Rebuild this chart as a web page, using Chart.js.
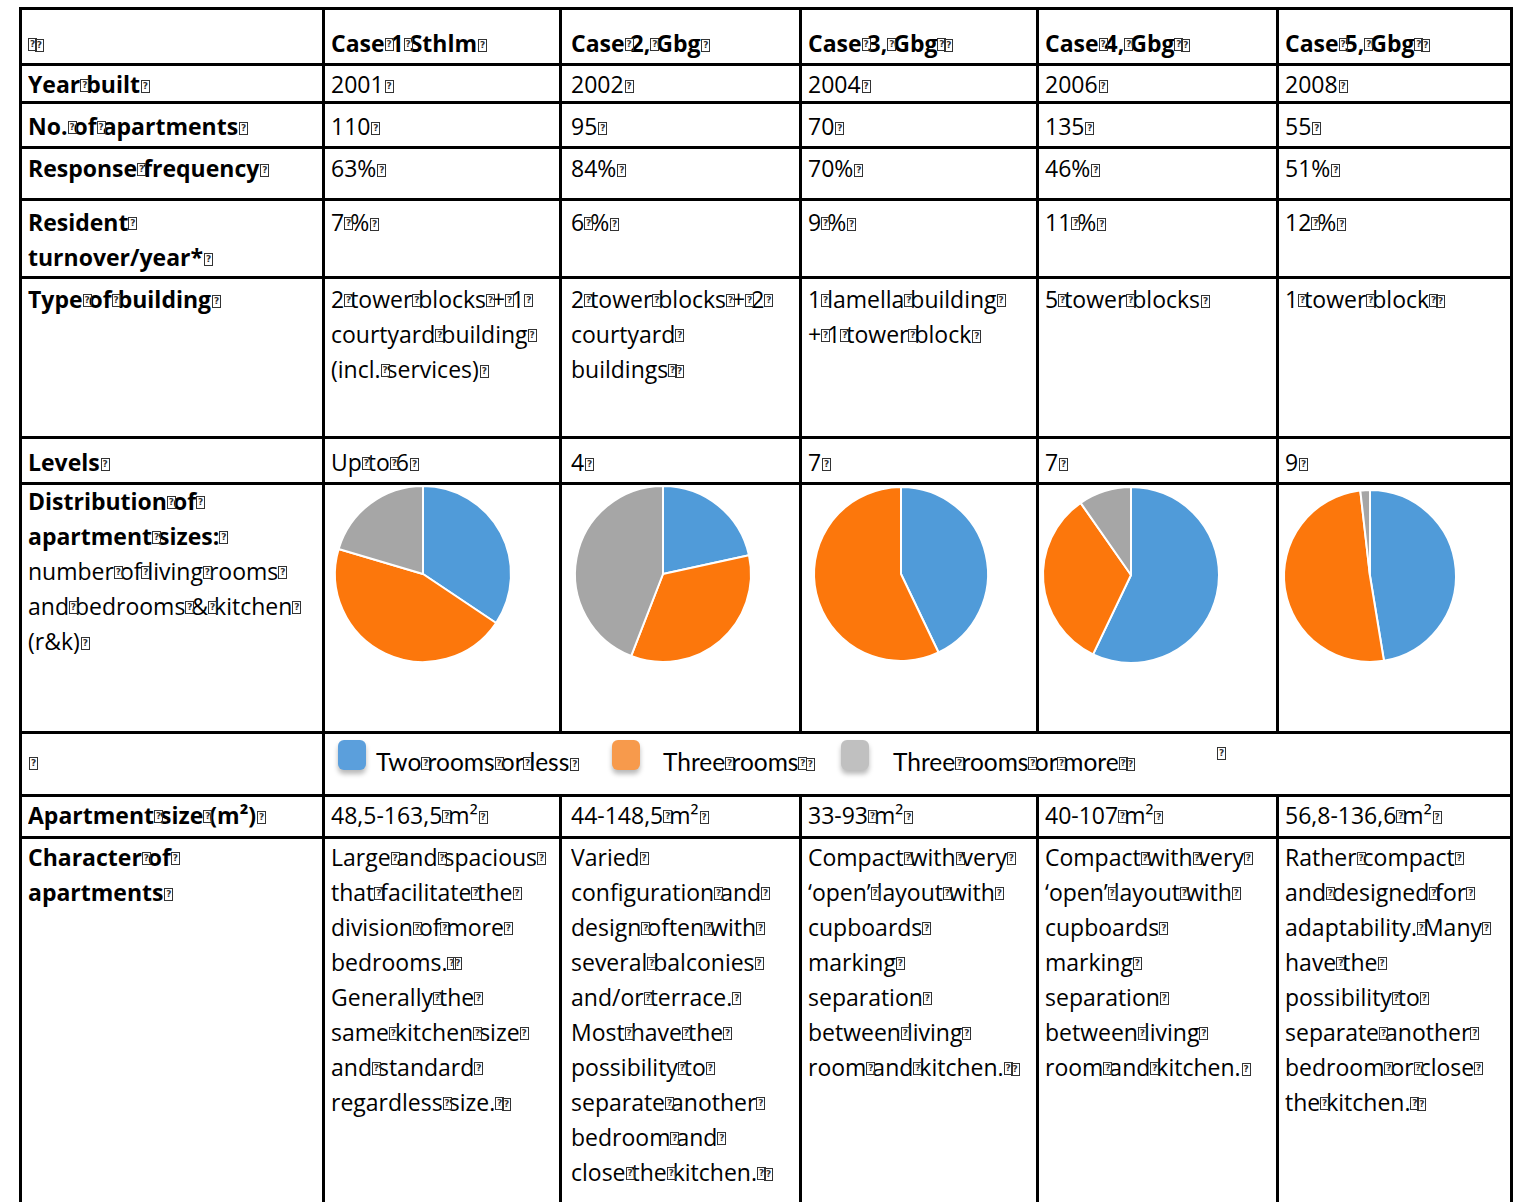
<!DOCTYPE html>
<html><head><meta charset="utf-8">
<script src="https://cdn.jsdelivr.net/npm/chart.js@4.4.1/dist/chart.umd.min.js"></script>
<style>
html,body{margin:0;padding:0;background:#fff;}
#page{position:relative;width:1514px;height:1202px;overflow:hidden;font-family:'Open Sans',Lato,sans-serif;color:#000;}
.ln{position:absolute;background:#000;}
.cell{position:absolute;overflow:hidden;font-size:23px;line-height:35px;white-space:pre;}
.b{font-weight:700;}
.sp{position:relative;}
.sp::after{content:'?';position:absolute;left:0;bottom:8px;width:9px;height:13px;border:1px solid #333;box-sizing:border-box;font:700 9px/11px 'DejaVu Sans',sans-serif;text-align:center;color:#333;}
.bx{display:inline-block;position:relative;width:9px;height:13px;margin-left:1px;}
.bx::after{content:'?';position:absolute;left:0;top:0;width:9px;height:13px;border:1px solid #333;box-sizing:border-box;font:700 9px/11px 'DejaVu Sans',sans-serif;text-align:center;color:#333;}
.sw{position:absolute;width:28px;height:30px;border-radius:6px;box-shadow:0 4px 5px rgba(0,0,0,0.28);}
.lg{position:absolute;font-family:Lato,sans-serif;font-size:24.5px;line-height:30px;white-space:pre;}
.lg .sp::after{bottom:6px;}
</style></head>
<body><div id="page"></div>
<script>
// ---------------- data ----------------
const cases = ["Case 1 Sthlm", "Case 2, Gbg", "Case 3, Gbg ", "Case 4, Gbg ", "Case 5, Gbg "];
const rowLabels = ["Year built", "No. of apartments", "Response frequency", "Resident \nturnover/year*", "Type of building", "Levels"];
const yearBuilt = ["2001", "2002", "2004", "2006", "2008"];
const numApartments = ["110", "95", "70", "135", "55"];
const responseFrequency = ["63%", "84%", "70%", "46%", "51%"];
const residentTurnover = ["7 %", "6 %", "9 %", "11 %", "12 %"];
const buildingType = [
  "2 tower blocks + 1 \ncourtyard building \n(incl. services)",
  "2 tower blocks + 2 \ncourtyard \nbuildings ",
  "1 lamella building \n+ 1 tower block",
  "5 tower blocks",
  "1 tower block "
];
const levels = ["Up to 6", "4", "7", "7", "9"];
const distributionLabelBold = "Distribution of \napartment sizes: ";
const distributionLabelRegular = "number of living rooms \nand bedrooms & kitchen \n(r&k)";
const sizeCategories = ["Two rooms or less", "Three rooms ", "Three rooms or more "];
// shares of apartments (%)
const shareTwoRoomsOrLess = [34.4, 21.6, 42.9, 57.1, 47.4];
const shareThreeRooms     = [45.2, 34.3, 57.1, 33.2, 50.8];
const shareThreeOrMore    = [20.4, 44.1, 0.0,  9.7,  1.8];
const sizeLabel = "Apartment size (m²)";
const sizeRange = ["48,5-163,5 m²", "44-148,5 m²", "33-93 m²", "40-107 m²", "56,8-136,6 m²"];
const characterLabel = "Character of \napartments";
const character = [
  "Large and spacious \nthat facilitate the \ndivision of more \nbedrooms.  \nGenerally the \nsame kitchen size \nand standard \nregardless size. ",
  "Varied \nconfiguration and \ndesign often with \nseveral balconies \nand/or terrace. \nMost have the \npossibility to \nseparate another \nbedroom and \nclose the kitchen. ",
  "Compact with very \n‘open’ layout with \ncupboards \nmarking \nseparation \nbetween living \nroom and kitchen. ",
  "Compact with very \n‘open’ layout with \ncupboards \nmarking \nseparation \nbetween living \nroom and kitchen.",
  "Rather compact \nand designed for \nadaptability. Many \nhave the \npossibility to \nseparate another \nbedroom or close \nthe kitchen. "
];

// ---------------- layout / style ----------------
const colLines = [19, 322, 559, 799, 1036, 1276, 1510];
const colPad = [6, 6, 9, 6, 6, 6];
const rowLines = [7, 63, 101, 146, 198, 276, 436, 482, 731, 794, 836];
const pageBottom = 1202;
const textTop = [26, 67, 109, 151, 205, 282, 445, 484, 744, 798, 840];
const pieColors = ['#509BD9', '#FC770C', '#A6A6A6'];
const legendColors = ['#5B9FDC', '#F79A4C', '#C0C0C0'];
const pieCenters = [[423,574],[663,574],[901,574],[1131,575],[1370,576]];
const pieRadii = [88, 88, 87, 88, 86];

const page = document.getElementById('page');
function line(x, y, w, h){ const d=document.createElement('div'); d.className='ln'; d.style.cssText=`left:${x}px;top:${y}px;width:${w}px;height:${h}px`; page.appendChild(d); }
const LW = 3;
rowLines.forEach(y => line(colLines[0], y, colLines[6]-colLines[0]+LW, LW));
[0,1,6].forEach(c => line(colLines[c], rowLines[0], LW, pageBottom-rowLines[0]));
[2,3,4,5].forEach(c => { line(colLines[c], rowLines[0], LW, rowLines[8]-rowLines[0]+LW); line(colLines[c], rowLines[9], LW, pageBottom-rowLines[9]); });

function fill(el, text, bold, endBox){
  const lines = text.split('\n');
  lines.forEach((ln, li) => {
    const div = document.createElement('div');
    if (bold) div.className = 'b';
    ln.split(/( )/).forEach(part => {
      if (part === ' ') { const s=document.createElement('span'); s.className='sp'; s.textContent=' '; div.appendChild(s); }
      else if (part) div.appendChild(document.createTextNode(part));
    });
    if (endBox && li === lines.length-1) { const b=document.createElement('span'); b.className='bx'; div.appendChild(b); }
    el.appendChild(div);
  });
}
function cell(r, c, text, bold, endBox=true){
  const el = document.createElement('div'); el.className='cell';
  const left = colLines[c] + LW + colPad[c];
  const right = colLines[c+1];
  el.style.left = left+'px'; el.style.top = textTop[r]+'px';
  el.style.width = (right-left)+'px';
  el.style.height = ((r+1<rowLines.length? rowLines[r+1] : pageBottom) - textTop[r])+'px';
  if (text !== null) fill(el, text, bold, endBox);
  page.appendChild(el); return el;
}

cell(0, 0, " ", true);
cases.forEach((t,i) => cell(0, i+1, t, true));
const bodyRows = [yearBuilt, numApartments, responseFrequency, residentTurnover, buildingType, levels];
bodyRows.forEach((arr, k) => {
  cell(k+1, 0, rowLabels[k], true);
  arr.forEach((t,i) => cell(k+1, i+1, t, false));
});
const dl = cell(7, 0, null, false);
fill(dl, distributionLabelBold, true, false);
fill(dl, distributionLabelRegular, false, true);
cases.forEach((c, i) => {
  const [cx, cy] = pieCenters[i];
  const box = document.createElement('div');
  box.style.cssText = `position:absolute;left:${cx-100}px;top:${cy-100}px;width:200px;height:200px`;
  const cv = document.createElement('canvas'); cv.width = 200; cv.height = 200;
  box.appendChild(cv); page.appendChild(box);
  new Chart(cv, {
    type: 'pie',
    data: { labels: sizeCategories, datasets: [{
      data: [shareTwoRoomsOrLess[i], shareThreeRooms[i], shareThreeOrMore[i]],
      backgroundColor: pieColors, borderColor: '#ffffff', borderWidth: 2
    }]},
    options: { responsive: false, animation: false, radius: pieRadii[i],
      layout: { padding: 0 },
      plugins: { legend: { display: false }, tooltip: { enabled: false } } }
  });
});
cell(8, 0, "", false);
const legendX = [[338, 376], [612, 663], [841, 893]];
sizeCategories.forEach((t, i) => {
  const sw = document.createElement('div'); sw.className='sw';
  sw.style.left = legendX[i][0]+'px'; sw.style.top = '740px'; sw.style.background = legendColors[i];
  page.appendChild(sw);
  const lg = document.createElement('div'); lg.className='lg';
  lg.style.left = legendX[i][1]+'px'; lg.style.top = '747px';
  fill(lg, t, false, true); page.appendChild(lg);
});
const lone = document.createElement('div'); lone.className='lg'; lone.style.left='1216px'; lone.style.top='736px';
fill(lone, "", false, true); page.appendChild(lone);
cell(9, 0, sizeLabel, true);
sizeRange.forEach((t,i) => cell(9, i+1, t, false));
cell(10, 0, characterLabel, true);
character.forEach((t,i) => cell(10, i+1, t, false));
</script>
</body></html>
